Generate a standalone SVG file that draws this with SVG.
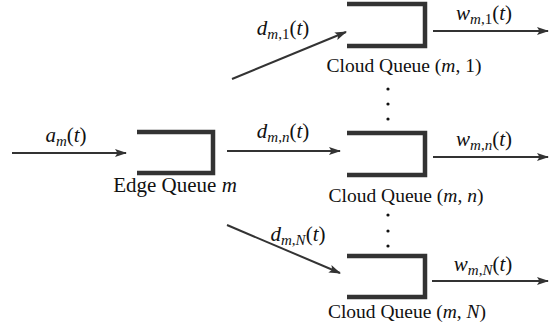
<svg xmlns="http://www.w3.org/2000/svg" width="556" height="333" viewBox="0 0 556 333">
<style>
.q{fill:none;stroke:#333;stroke-width:4.5;stroke-linejoin:miter;stroke-linecap:butt}
.c{stroke:#333;stroke-width:2;fill:none}
text{font-family:"Liberation Serif","Times New Roman",serif;font-size:21px;fill:#111}
.cl{font-size:19.5px}
.i{font-style:italic}
.s{font-size:15px}
.dot{fill:#111}
</style>
<defs>
<marker id="ah" markerUnits="userSpaceOnUse" markerWidth="12" markerHeight="10" viewBox="0 0 12 10" refX="11" refY="5" orient="auto">
<path d="M0,1 L12,5 L0,9 L2.5,5 Z" fill="#333"/>
</marker>
</defs>
<rect width="556" height="333" fill="#fff"/>

<g id="edge-queue">
<path class="q" d="M137,132 H213 V173 H137"/>
<text x="175" y="192" text-anchor="middle">Edge Queue <tspan class="i">m</tspan></text>
</g>

<g id="cloud-queue-1">
<path class="q" d="M347,4 H425 V46 H347"/>
<text class="cl" x="404" y="72" text-anchor="middle">Cloud Queue (<tspan class="i">m</tspan>, 1)</text>
</g>

<g id="cloud-queue-n">
<path class="q" d="M347,133 H425 V175 H347"/>
<text class="cl" x="406" y="202" text-anchor="middle">Cloud Queue (<tspan class="i">m</tspan>, <tspan class="i">n</tspan>)</text>
</g>

<g id="cloud-queue-N">
<path class="q" d="M347,256 H425 V297 H347"/>
<text class="cl" x="407" y="318" text-anchor="middle">Cloud Queue (<tspan class="i">m</tspan>, <tspan class="i">N</tspan>)</text>
</g>

<g id="dots">
<circle class="dot" cx="388" cy="89" r="1.6"/>
<circle class="dot" cx="388" cy="104" r="1.6"/>
<circle class="dot" cx="388" cy="119" r="1.6"/>
<circle class="dot" cx="388" cy="215" r="1.6"/>
<circle class="dot" cx="388" cy="231" r="1.6"/>
<circle class="dot" cx="388" cy="246" r="1.6"/>
</g>

<g id="connectors">
<line class="c" x1="12" y1="153" x2="126" y2="153" marker-end="url(#ah)"/>
<line class="c" x1="232" y1="79" x2="346" y2="32" marker-end="url(#ah)"/>
<line class="c" x1="227" y1="151" x2="340" y2="151" marker-end="url(#ah)"/>
<line class="c" x1="227" y1="225" x2="340" y2="273" marker-end="url(#ah)"/>
<line class="c" x1="433" y1="31" x2="548" y2="31" marker-end="url(#ah)"/>
<line class="c" x1="433" y1="157" x2="548" y2="157" marker-end="url(#ah)"/>
<line class="c" x1="432" y1="281" x2="548" y2="281" marker-end="url(#ah)"/>
</g>

<g id="labels">
<text x="66" y="142" text-anchor="middle"><tspan class="i">a</tspan><tspan class="i s" dy="4">m</tspan><tspan dy="-4">(</tspan><tspan class="i">t</tspan>)</text>
<text x="283" y="35" text-anchor="middle"><tspan class="i">d</tspan><tspan class="i s" dy="4">m</tspan><tspan class="s">,1</tspan><tspan dy="-4">(</tspan><tspan class="i">t</tspan>)</text>
<text x="484" y="20" text-anchor="middle"><tspan class="i">w</tspan><tspan class="i s" dy="4">m</tspan><tspan class="s">,1</tspan><tspan dy="-4">(</tspan><tspan class="i">t</tspan>)</text>
<text x="283" y="138" text-anchor="middle"><tspan class="i">d</tspan><tspan class="i s" dy="4">m</tspan><tspan class="s">,</tspan><tspan class="i s">n</tspan><tspan dy="-4">(</tspan><tspan class="i">t</tspan>)</text>
<text x="484" y="146" text-anchor="middle"><tspan class="i">w</tspan><tspan class="i s" dy="4">m</tspan><tspan class="s">,</tspan><tspan class="i s">n</tspan><tspan dy="-4">(</tspan><tspan class="i">t</tspan>)</text>
<text x="298" y="241" text-anchor="middle"><tspan class="i">d</tspan><tspan class="i s" dy="4">m</tspan><tspan class="s">,</tspan><tspan class="i s">N</tspan><tspan dy="-4">(</tspan><tspan class="i">t</tspan>)</text>
<text x="483" y="271" text-anchor="middle"><tspan class="i">w</tspan><tspan class="i s" dy="4">m</tspan><tspan class="s">,</tspan><tspan class="i s">N</tspan><tspan dy="-4">(</tspan><tspan class="i">t</tspan>)</text>
</g>
</svg>
